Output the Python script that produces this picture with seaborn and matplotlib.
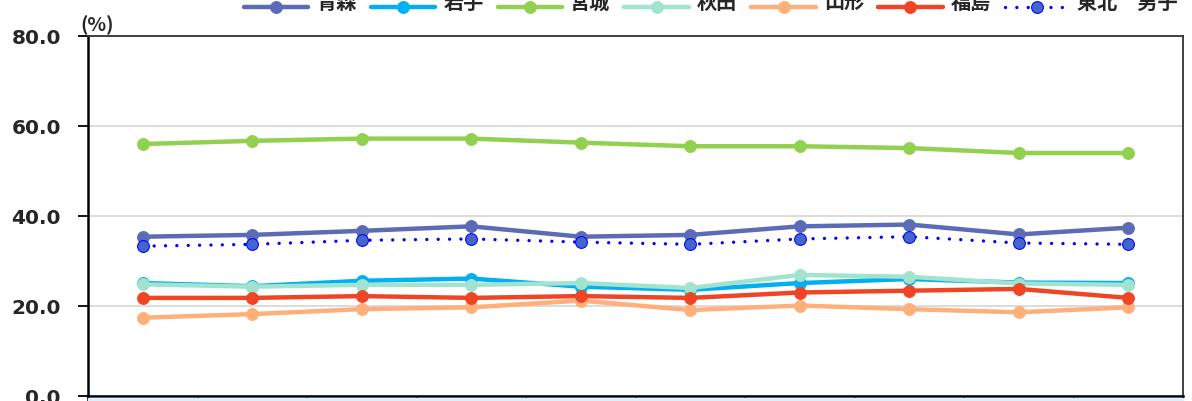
import numpy as np
import pandas as pd
import seaborn as sns
import matplotlib.pyplot as plt
from matplotlib.patches import Rectangle
from matplotlib.transforms import ScaledTranslation

# periods along the x axis (labels are cut off in the source)
periods = list(range(10))

aomori = [35.4, 35.8, 36.7, 37.7, 35.4, 35.8, 37.7, 38.1, 35.9, 37.4]
iwate = [25.1, 24.4, 25.6, 26.1, 24.3, 23.6, 25.1, 26.0, 25.2, 25.1]
miyagi = [56.0, 56.7, 57.2, 57.2, 56.3, 55.5, 55.5, 55.1, 54.0, 54.0]
akita = [24.8, 24.3, 24.7, 24.7, 25.1, 24.0, 26.9, 26.5, 25.0, 24.7]
yamagata = [17.4, 18.2, 19.3, 19.7, 21.2, 19.1, 20.1, 19.3, 18.6, 19.7]
fukushima = [21.8, 21.8, 22.2, 21.8, 22.2, 21.8, 23.0, 23.4, 23.8, 21.8]
tohoku_male = [33.3, 33.7, 34.6, 34.9, 34.2, 33.7, 34.9, 35.4, 34.0, 33.7]

series = [
    ("青森", aomori, "#5b6bb5"),
    ("岩手", iwate, "#00b0f0"),
    ("宮城", miyagi, "#92d050"),
    ("秋田", akita, "#a0e4d0"),
    ("山形", yamagata, "#ffb07a"),
    ("福島", fukushima, "#f04525"),
]

sns.set_theme(style="white")
plt.rcParams['font.family'] = ['Noto Sans CJK JP', 'DejaVu Sans']

fig = plt.figure(figsize=(11.92, 4.01), dpi=100)
ax = fig.add_axes([88 / 1192, 1 - 396 / 401, (1183 - 88) / 1192, 360 / 401])

for name, vals, col in series:
    sns.lineplot(x=periods, y=vals, ax=ax, color=col, linewidth=3.2,
                 marker='o', markersize=8.5, markeredgecolor=col, label=name)

sns.lineplot(x=periods, y=tohoku_male, ax=ax, color='#0000ff', linewidth=2.4,
             marker='o', markersize=8.5, markerfacecolor='#4466cc',
             markeredgecolor='#0000ff', label='東北　男子')
dot_line = ax.lines[-1]
dot_line.set_linestyle((0, (0.01, 3.4)))
dot_line.set_dash_capstyle('round')

ax.set_xlim(-0.5, 9.5)
ax.set_ylim(0, 80)
ax.set_yticks([0, 20, 40, 60, 80])
ax.set_yticklabels([f"{v:.1f}" for v in [0, 20, 40, 60, 80]],
                   fontsize=14.5, fontweight='bold', family='DejaVu Sans')
ax.set_xticks(np.arange(-0.5, 10, 1))
ax.set_xticklabels([])
ax.tick_params(axis='y', length=7, width=1.3, color='black', left=True, pad=12.5)
ax.tick_params(axis='x', length=6, width=1.3, color='black', bottom=True)
ax.yaxis.grid(True, color='#d9d9d9', linewidth=1.3)
ax.set_xlabel("")
ax.set_ylabel("")
for side, sp in ax.spines.items():
    sp.set_color('#333333' if side in ('top', 'right') else 'black')
    sp.set_linewidth(1.3 if side in ('top', 'right') else 1.8)

# pale band of the (cropped) category table under the axis
fig.patches.append(Rectangle((88 / 1192, 0), (1183 - 88) / 1192, 3 / 401,
                             transform=fig.transFigure, color='#ddf0fb',
                             zorder=0))

fig.text(80 / 1192, 1 - 25 / 401, "(%)", fontsize=14, fontweight='bold',
         va='center', ha='left')

handles, labels = ax.get_legend_handles_labels()
ax.get_legend().remove()
leg = fig.legend(handles, labels, ncol=7, loc='center',
                 bbox_to_anchor=(711 / 1192, 1 - 8 / 401), frameon=False,
                 prop={'size': 14.5, 'weight': 'bold'}, handlelength=3.2,
                 handletextpad=0.4, columnspacing=0.7, borderpad=0)
# legend labels sit a little higher than the handles (top edge crops them)
for t in leg.get_texts():
    t.set_transform(t.get_transform() + ScaledTranslation(0, 4 / 72, fig.dpi_scale_trans))

fig.savefig('out.png', dpi=100)
